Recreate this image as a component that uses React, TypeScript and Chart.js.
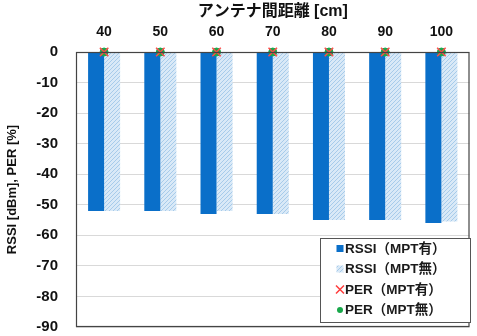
import React, { useEffect, useRef } from "react";
import { Chart, registerables } from "chart.js";

Chart.register(...registerables);

const categories = ["40", "50", "60", "70", "80", "90", "100"];
const rssiWith = [-52, -52, -53, -53, -55, -55, -56];
const rssiWithout = [-52, -52, -52, -53, -55, -55, -55.5];
const perWith = [0, 0, 0, 0, 0, 0, 0];
const perWithout = [0, 0, 0, 0, 0, 0, 0];
const yTicks = [0, -10, -20, -30, -40, -50, -60, -70, -80, -90];
const xTitle = "アンテナ間距離 [cm]";
const yTitle = "RSSI [dBm], PER [%]";
const legendLabels = ["RSSI（MPT有）", "RSSI（MPT無）", "PER（MPT有）", "PER（MPT無）"];

const FONT = "'Liberation Sans', Arial, 'Noto Sans CJK JP', sans-serif";

function makeHatch(): CanvasPattern | string {
  const c = document.createElement("canvas");
  c.width = 4;
  c.height = 4;
  const g = c.getContext("2d");
  if (!g) return "#cde2f5";
  g.fillStyle = "#d9e9f7";
  g.fillRect(0, 0, 4, 4);
  g.strokeStyle = "#a7cbea";
  g.lineWidth = 1;
  g.beginPath();
  g.moveTo(0, 4);
  g.lineTo(4, 0);
  g.moveTo(-1, 1);
  g.lineTo(1, -1);
  g.moveTo(3, 5);
  g.lineTo(5, 3);
  g.stroke();
  const p = g.createPattern(c, "repeat");
  return p || "#cde2f5";
}

export default function App() {
  const ref = useRef<HTMLCanvasElement | null>(null);
  useEffect(() => {
    document.body.style.margin = "0";
    const canvas = ref.current;
    if (!canvas) return;
    const hatch = makeHatch();

    const framePlugin = {
      id: "frameAndLegend",
      afterDraw(chart: any) {
        const ctx = chart.ctx;
        const a = chart.chartArea;
        ctx.save();
        ctx.strokeStyle = "#444";
        ctx.lineWidth = 1.2;
        ctx.strokeRect(a.left + 0.5, a.top + 0.5, a.right - a.left - 1, a.bottom - a.top - 1);
        const lx = 320, ly = 238, lw = 150, lh = 84;
        ctx.fillStyle = "#fff";
        ctx.fillRect(lx, ly, lw, lh);
        ctx.strokeStyle = "#555";
        ctx.lineWidth = 1;
        ctx.strokeRect(lx + 0.5, ly + 0.5, lw, lh);
        ctx.font = "bold 13.5px " + FONT;
        ctx.textBaseline = "middle";
        ctx.textAlign = "left";
        const rows = [248.5, 269, 289.5, 310];
        rows.forEach((yy, i) => {
          const mx = 340;
          if (i === 0) {
            ctx.fillStyle = "#0a6fc9";
            ctx.fillRect(mx - 3.5, yy - 3.5, 7, 7);
          } else if (i === 1) {
            ctx.fillStyle = hatch as any;
            ctx.fillRect(mx - 3.5, yy - 3.5, 7, 7);
          } else if (i === 2) {
            ctx.strokeStyle = "#ff3b3b";
            ctx.lineWidth = 1.5;
            ctx.beginPath();
            ctx.moveTo(mx - 4, yy - 4);
            ctx.lineTo(mx + 4, yy + 4);
            ctx.moveTo(mx + 4, yy - 4);
            ctx.lineTo(mx - 4, yy + 4);
            ctx.stroke();
          } else {
            ctx.fillStyle = "#18a84a";
            ctx.beginPath();
            ctx.arc(mx, yy, 3, 0, Math.PI * 2);
            ctx.fill();
          }
          ctx.fillStyle = "#1a1a1a";
          ctx.fillText(legendLabels[i], 345, yy + 0.5);
        });
        ctx.restore();
      },
    };

    const chart = new Chart(canvas, {
      type: "bar",
      data: {
        labels: categories,
        datasets: [
          {
            type: "line",
            label: legendLabels[2],
            data: perWith,
            showLine: false,
            clip: false,
            pointStyle: "crossRot",
            pointRadius: 6,
            borderColor: "#ff4a4a",
            backgroundColor: "#ff4a4a",
            pointBorderWidth: 1.5,
            order: 0,
          } as any,
          {
            type: "line",
            label: legendLabels[3],
            data: perWithout,
            showLine: false,
            clip: false,
            pointStyle: "circle",
            pointRadius: 4,
            borderColor: "#18a84a",
            backgroundColor: "#18a84a",
            order: 0,
          } as any,
          {
            label: legendLabels[0],
            data: rssiWith,
            backgroundColor: "#0a6fc9",
            categoryPercentage: 0.57,
            barPercentage: 1,
            order: 1,
          },
          {
            label: legendLabels[1],
            data: rssiWithout,
            backgroundColor: hatch as any,
            categoryPercentage: 0.57,
            barPercentage: 1,
            order: 1,
          },
        ],
      },
      options: {
        animation: false,
        responsive: false,
        layout: { padding: { left: 0, right: 4, top: 0, bottom: 9 } },
        plugins: { legend: { display: false }, tooltip: { enabled: false } },
        scales: {
          x: {
            position: "top",
            grid: { display: false },
            border: { display: false },
            ticks: {
              color: "#111",
              font: { family: FONT, size: 14, weight: "bold" },
              padding: 3,
            },
            title: {
              display: true,
              text: xTitle,
              color: "#111",
              font: { family: FONT, size: 16, weight: "bold" },
              padding: { top: 2, bottom: 0 },
            },
            afterFit(scale: any) {
              scale.height = 52;
              scale.paddingLeft = 0;
              scale.paddingRight = 0;
            },
          },
          y: {
            min: -90,
            max: 0,
            afterBuildTicks(scale: any) {
              scale.ticks = yTicks.map((v) => ({ value: v }));
            },
            grid: { color: "#d9d9d9", lineWidth: 1, drawTicks: false },
            border: { display: false },
            ticks: {
              color: "#111",
              font: { family: FONT, size: 15, weight: "bold" },
              padding: 18,
            },
            title: {
              display: true,
              text: yTitle,
              color: "#111",
              font: { family: FONT, size: 13, weight: "bold" },
              padding: { top: 5, bottom: 0 },
            },
            afterFit(scale: any) {
              scale.width = 76;
              scale.paddingTop = 0;
              scale.paddingBottom = 0;
            },
          },
        },
      },
      plugins: [framePlugin],
    });
    return () => chart.destroy();
  }, []);
  return (
    <div style={{ width: 477, height: 336 }}>
      <canvas ref={ref} width={477} height={336} style={{ display: "block" }} />
    </div>
  );
}
